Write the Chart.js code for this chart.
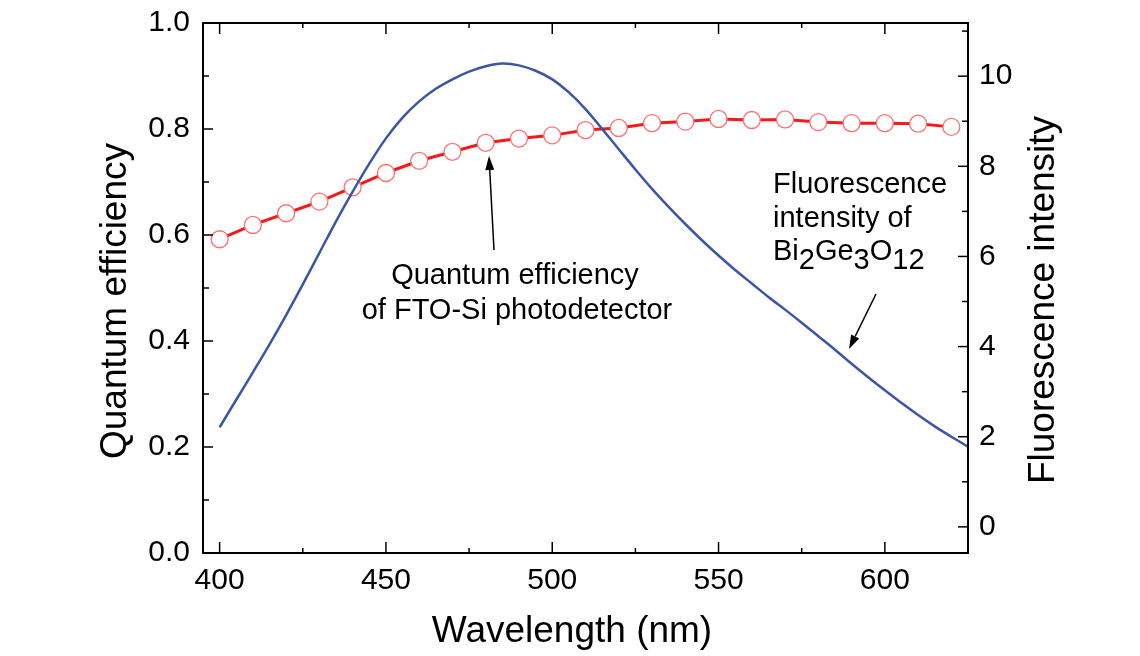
<!DOCTYPE html>
<html>
<head>
<meta charset="utf-8">
<script src="https://cdn.jsdelivr.net/npm/chart.js@4"></script>
<style>
  body { margin: 0; background: #fff; }
  canvas { display: block; }
</style>
</head>
<body>
<canvas id="spectra" width="1140" height="656"></canvas>
<script>
// FTO-Si photodetector quantum efficiency (left axis), every 10 nm
const qeWavelength = [400, 410, 420, 430, 440, 450, 460, 470, 480, 490, 500, 510,
  520, 530, 540, 550, 560, 570, 580, 590, 600, 610, 620];
const quantumEfficiency = [0.592, 0.619, 0.641, 0.663, 0.690, 0.717, 0.740, 0.757, 0.774, 0.782, 0.788, 0.798,
  0.802, 0.811, 0.814, 0.819, 0.817, 0.818, 0.813, 0.811, 0.811, 0.810, 0.804];

// Bi2Ge3O12 fluorescence spectrum (right axis), every 5 nm
const flWavelength = [400, 405, 410, 415, 420, 425, 430, 435, 440, 445, 450, 455, 460, 465, 470, 475,
  480, 485, 490, 495, 500, 505, 510, 515, 520, 525, 530, 535, 540, 545, 550, 555,
  560, 565, 570, 575, 580, 585, 590, 595, 600, 605, 610, 615, 620, 625];
const fluorescence = [2.21, 2.82, 3.43, 4.05, 4.70, 5.38, 6.08, 6.78, 7.44, 8.06, 8.62, 9.08, 9.44, 9.72, 9.93, 10.10,
  10.22, 10.28, 10.24, 10.12, 9.93, 9.64, 9.27, 8.83, 8.38, 7.93, 7.50, 7.10, 6.72, 6.36, 6.02, 5.70,
  5.40, 5.10, 4.82, 4.53, 4.23, 3.93, 3.62, 3.32, 3.03, 2.75, 2.48, 2.23, 2.00, 1.78];

// axis ticks; only the "major" ones get a label
const wavelengthTicks = [400, 425, 450, 475, 500, 525, 550, 575, 600];
const qeTicks = [0, 0.1, 0.2, 0.3, 0.4, 0.5, 0.6, 0.7, 0.8, 0.9, 1.0];
const flTicks = [0, 1, 2, 3, 4, 5, 6, 7, 8, 9, 10, 11];

const FONT = "'Liberation Sans', Arial, Helvetica, sans-serif";
Chart.defaults.font.family = FONT;
Chart.defaults.color = '#000';

const isMajorX = v => v % 50 === 0;
const isMajorQe = v => Math.round(v * 10) % 2 === 0;
const isMajorFl = v => v % 2 === 0;

function arrow(ctx, x0, y0, x1, y1) {
  const ang = Math.atan2(y1 - y0, x1 - x0);
  const len = 14, half = 4.5;
  const bx = x1 - len * Math.cos(ang), by = y1 - len * Math.sin(ang);
  ctx.beginPath();
  ctx.moveTo(x0, y0);
  ctx.lineTo(bx, by);
  ctx.stroke();
  ctx.beginPath();
  ctx.moveTo(x1, y1);
  ctx.lineTo(bx + half * Math.sin(ang), by - half * Math.cos(ang));
  ctx.lineTo(bx - half * Math.sin(ang), by + half * Math.cos(ang));
  ctx.closePath();
  ctx.fill();
}

// keep the plot box fixed: no extra room for overhanging tick labels
const noOverhang = s => {
  s.paddingTop = 0; s.paddingBottom = 0;
  s.paddingLeft = 0; s.paddingRight = 0;
};

// box frame with inward ticks, axis titles and the two callouts
const frame = {
  id: 'frame',
  afterDraw(chart) {
    const { ctx, chartArea: a, scales } = chart;
    const seg = (x0, y0, x1, y1) => {
      ctx.beginPath(); ctx.moveTo(x0, y0); ctx.lineTo(x1, y1); ctx.stroke();
    };
    ctx.save();
    ctx.strokeStyle = '#000';
    ctx.fillStyle = '#000';
    ctx.lineWidth = 1.5;

    scales.x.ticks.forEach(t => {
      const px = scales.x.getPixelForValue(t.value);
      const len = isMajorX(t.value) ? 11 : 5;
      seg(px, a.bottom, px, a.bottom - len);
      seg(px, a.top, px, a.top + len);
    });
    scales.y.ticks.forEach(t => {
      const py = scales.y.getPixelForValue(t.value);
      seg(a.left, py, a.left + (isMajorQe(t.value) ? 10 : 6), py);
    });
    scales.y2.ticks.forEach(t => {
      const py = scales.y2.getPixelForValue(t.value);
      seg(a.right, py, a.right - (isMajorFl(t.value) ? 10 : 6), py);
    });

    ctx.lineWidth = 2;
    ctx.strokeRect(a.left, a.top, a.right - a.left, a.bottom - a.top);

    // axis titles
    ctx.font = '37px ' + FONT;
    ctx.textAlign = 'center';
    ctx.textBaseline = 'middle';
    ctx.fillText('Wavelength (nm)', 572, 632);
    ctx.save();
    ctx.translate(116, 301);
    ctx.rotate(-Math.PI / 2);
    ctx.fillText('Quantum efficiency', 0, 0);
    ctx.restore();
    ctx.save();
    ctx.translate(1044, 300);
    ctx.rotate(-Math.PI / 2);
    ctx.fillText('Fluorescence intensity', 0, 0);
    ctx.restore();

    // callouts
    ctx.font = '29px ' + FONT;
    ctx.fillText('Quantum efficiency', 515, 276);
    ctx.fillText('of FTO-Si photodetector', 517, 311);

    ctx.textAlign = 'left';
    ctx.fillText('Fluorescence', 773, 185);
    ctx.fillText('intensity of', 773, 219);
    let x = 773;
    const parts = [['Bi', 0], ['2', 9], ['Ge', 0], ['3', 9], ['O', 0], ['12', 9]];
    parts.forEach(([s, dy]) => {
      ctx.fillText(s, x, 252 + dy);
      x += ctx.measureText(s).width;
    });

    ctx.lineWidth = 1.5;
    arrow(ctx, 494, 250, 489, 156);
    arrow(ctx, 876, 294, 849, 349);
    ctx.restore();
  }
};

new Chart(document.getElementById('spectra'), {
  type: 'line',
  data: {
    datasets: [{
      label: 'Fluorescence intensity',
      data: flWavelength.map((x, i) => ({ x, y: fluorescence[i] })),
      yAxisID: 'y2',
      borderColor: '#3a56a5',
      borderWidth: 2.5,
      pointRadius: 0,
      tension: 0.35,
      order: 0
    }, {
      label: 'Quantum efficiency',
      data: qeWavelength.map((x, i) => ({ x, y: quantumEfficiency[i] })),
      yAxisID: 'y',
      borderColor: '#f41a1a',
      borderWidth: 3,
      pointRadius: 8.5,
      pointBackgroundColor: '#fff',
      pointBorderColor: '#ff6f6f',
      pointBorderWidth: 1.3,
      order: 1
    }]
  },
  options: {
    responsive: false,
    animation: false,
    layout: { padding: { top: 23, left: 0, right: 0, bottom: 0 } },
    plugins: { legend: { display: false }, tooltip: { enabled: false } },
    scales: {
      x: {
        type: 'linear',
        min: 395,
        max: 625,
        afterBuildTicks: s => { s.ticks = wavelengthTicks.map(v => ({ value: v })); },
        afterFit: s => { s.height = 103; noOverhang(s); },
        ticks: {
          autoSkip: false,
          maxRotation: 0,
          padding: 10,
          font: { size: 30 },
          callback: v => isMajorX(v) ? String(v) : ''
        },
        grid: { display: false, drawTicks: false },
        border: { display: false }
      },
      y: {
        position: 'left',
        min: 0,
        max: 1,
        afterBuildTicks: s => { s.ticks = qeTicks.map(v => ({ value: v })); },
        afterFit: s => { s.width = 203; noOverhang(s); },
        ticks: {
          autoSkip: false,
          padding: 13,
          font: { size: 30 },
          callback: v => isMajorQe(v) ? v.toFixed(1) : ''
        },
        grid: { display: false, drawTicks: false },
        border: { display: false }
      },
      y2: {
        position: 'right',
        min: -0.58,
        max: 11.18,
        afterBuildTicks: s => { s.ticks = flTicks.map(v => ({ value: v })); },
        afterFit: s => { s.width = 172; noOverhang(s); },
        ticks: {
          autoSkip: false,
          padding: 11,
          font: { size: 30 },
          callback: v => isMajorFl(v) ? String(v) : ''
        },
        grid: { display: false, drawTicks: false },
        border: { display: false }
      }
    }
  },
  plugins: [frame]
});
</script>
</body>
</html>
